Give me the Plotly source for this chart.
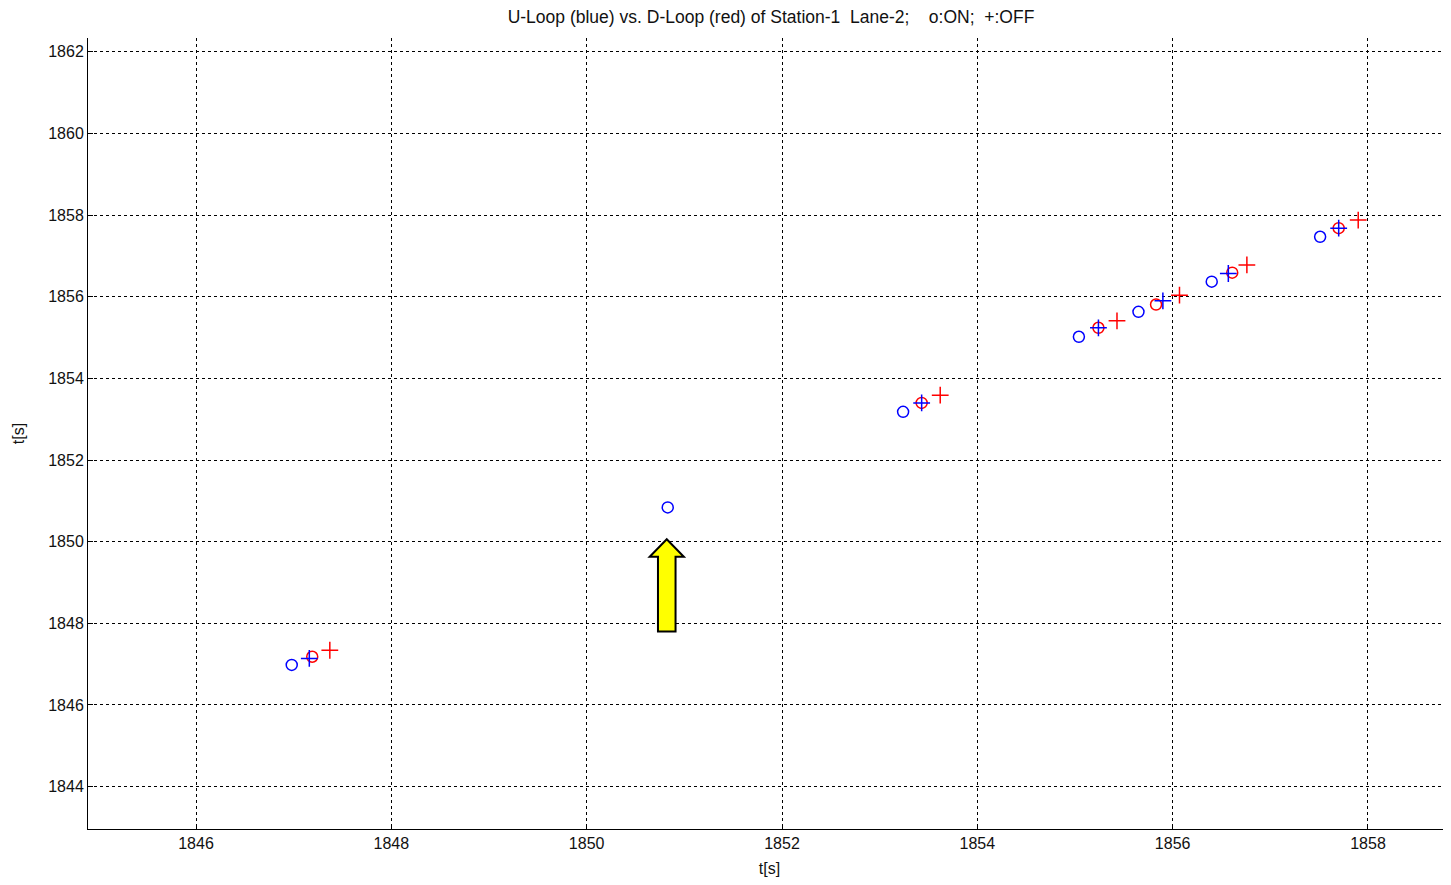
import plotly.graph_objects as go

# U-Loop (blue) and D-Loop (red); ON = circle, OFF = plus
u_on_x = [1846.98, 1850.83, 1853.24, 1855.04, 1855.65, 1856.40, 1857.51]
u_on_y = [1846.98, 1850.84, 1853.18, 1855.02, 1855.63, 1856.37, 1857.47]
u_off_x = [1847.16, 1853.43, 1855.24, 1855.90, 1856.57, 1857.70]
u_off_y = [1847.14, 1853.40, 1855.24, 1855.90, 1856.57, 1857.68]
d_on_x = [1847.19, 1853.43, 1855.24, 1855.83, 1856.61, 1857.70]
d_on_y = [1847.18, 1853.40, 1855.24, 1855.81, 1856.59, 1857.68]
d_off_x = [1847.37, 1853.62, 1855.43, 1856.07, 1856.76, 1857.90]
d_off_y = [1847.34, 1853.59, 1855.41, 1856.04, 1856.78, 1857.88]

x_ticks = [1846, 1848, 1850, 1852, 1854, 1856, 1858]
y_ticks = [1844, 1846, 1848, 1850, 1852, 1854, 1856, 1858, 1860, 1862]

title_text = ("U-Loop (blue) vs. D-Loop (red) of Station-1\u00a0\u00a0Lane-2;"
              "\u00a0\u00a0\u00a0\u00a0o:ON;\u00a0\u00a0+:OFF")

# highlight arrow (pointing at the lone U-Loop detection)
arrow_x = 1850.82
arrow_tip_y = 1850.06
arrow_head_y = 1849.63
arrow_base_y = 1847.80
head_half = 0.175
shaft_half = 0.09

FONT = "Liberation Sans, Arial, sans-serif"

fig = go.Figure()
fig.add_trace(go.Scatter(x=d_on_x, y=d_on_y, mode="markers",
                         marker=dict(symbol="circle-open", size=11, color="#ff0000", line=dict(width=1.5))))
fig.add_trace(go.Scatter(x=d_off_x, y=d_off_y, mode="markers",
                         marker=dict(symbol="cross-thin-open", size=12, color="#ff0000", line=dict(width=1.5, color="#ff0000"))))
fig.add_trace(go.Scatter(x=u_on_x, y=u_on_y, mode="markers",
                         marker=dict(symbol="circle-open", size=11, color="#0000ff", line=dict(width=1.5))))
fig.add_trace(go.Scatter(x=u_off_x, y=u_off_y, mode="markers",
                         marker=dict(symbol="cross-thin-open", size=12, color="#0000ff", line=dict(width=1.5, color="#0000ff"))))

path = (f"M {arrow_x} {arrow_tip_y} "
        f"L {arrow_x + head_half} {arrow_head_y} "
        f"L {arrow_x + shaft_half} {arrow_head_y} "
        f"L {arrow_x + shaft_half} {arrow_base_y} "
        f"L {arrow_x - shaft_half} {arrow_base_y} "
        f"L {arrow_x - shaft_half} {arrow_head_y} "
        f"L {arrow_x - head_half} {arrow_head_y} Z")
fig.add_shape(type="path", path=path, xref="x", yref="y",
              fillcolor="#ffff00", line=dict(color="#000000", width=2))

axis_common = dict(
    showline=True, linecolor="#000000", linewidth=1, mirror=False,
    ticks="inside", ticklen=5, tickcolor="#000000",
    showgrid=True, gridcolor="#000000", gridwidth=1, griddash="3px,3px",
    zeroline=False, tickfont=dict(family=FONT, size=16, color="#111111"),
)

fig.update_xaxes(range=[1844.894, 1858.85], tickvals=x_ticks,
                 ticktext=[str(v) for v in x_ticks],
                 title=dict(text="t[s]", font=dict(family=FONT, size=16, color="#111111"), standoff=11),
                 automargin=False, **axis_common)
fig.update_yaxes(range=[1842.96, 1862.34], tickvals=y_ticks,
                 ticktext=[str(v) for v in y_ticks],
                 title=dict(text="t[s]", font=dict(family=FONT, size=16, color="#111111"), standoff=19),
                 automargin=False, **axis_common)

fig.update_layout(
    width=1443, height=869,
    margin=dict(l=80, r=0, t=30, b=48),
    paper_bgcolor="#ffffff", plot_bgcolor="#ffffff",
    showlegend=False,
    title=dict(text=title_text, x=763 / 1443, xanchor="center", y=1 - 9 / 869, yanchor="middle",
               font=dict(family=FONT, size=17.5, color="#111111")),
)

fig.write_html("out.html")
